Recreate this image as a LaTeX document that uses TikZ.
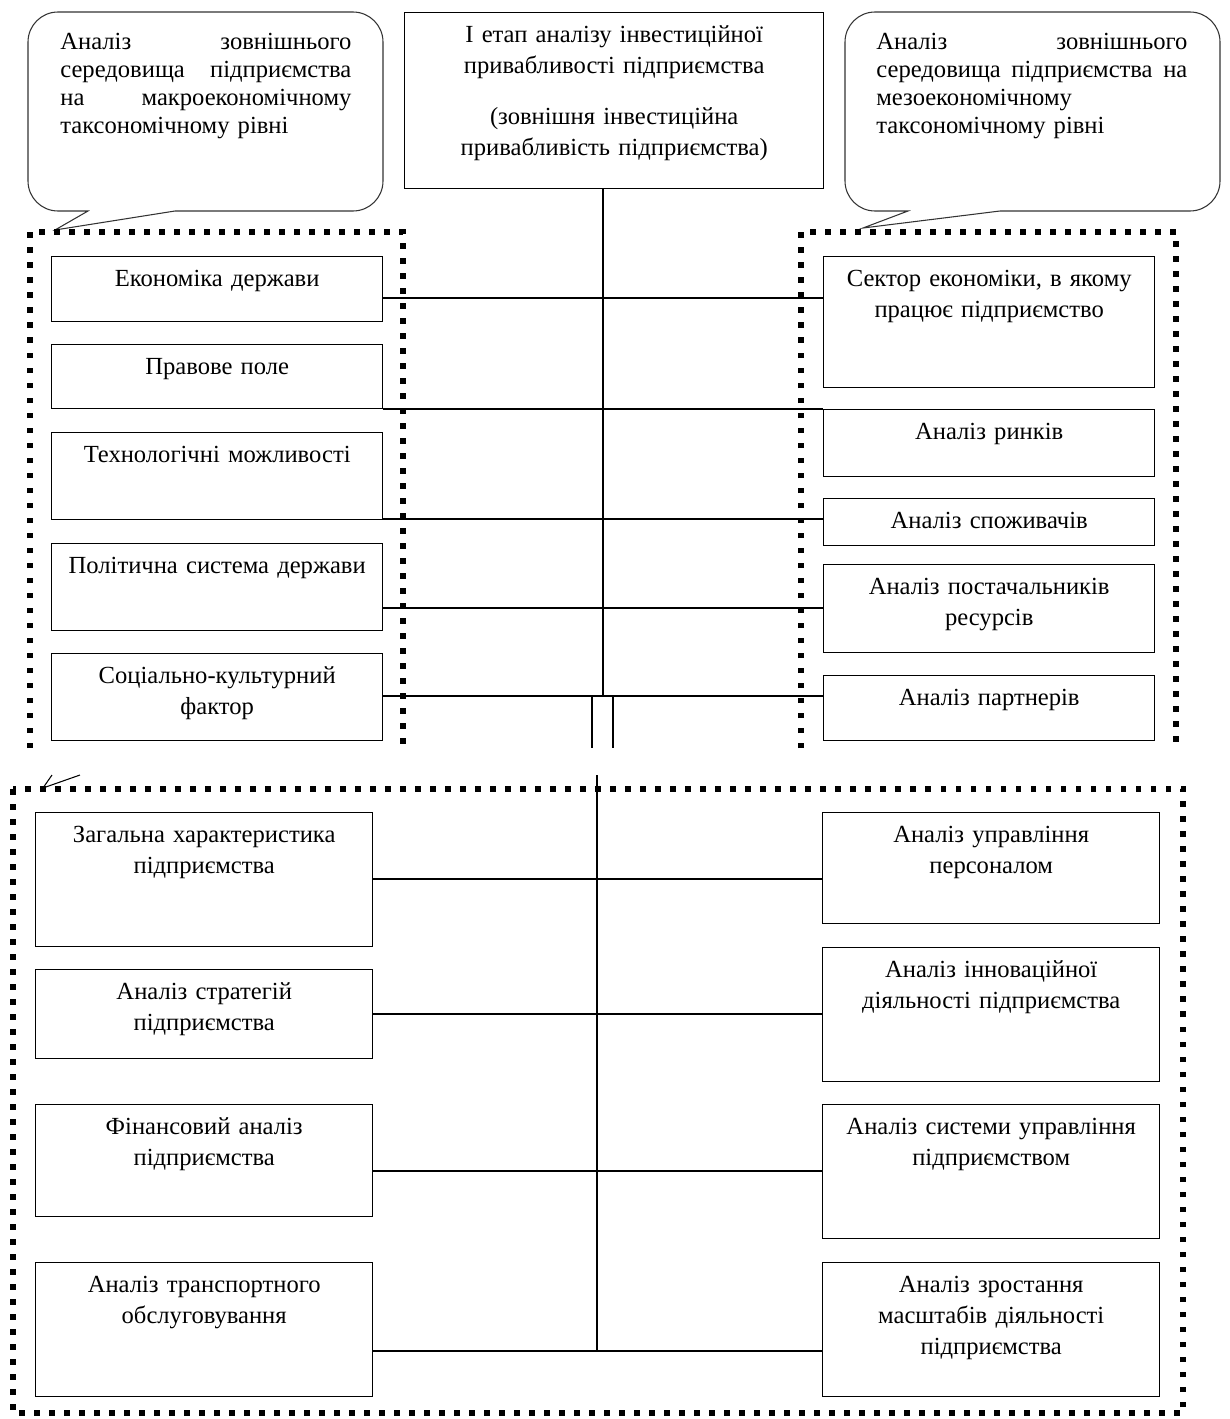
\documentclass[tikz,border=0pt]{standalone}
\usepackage{fontspec}
\setmainfont{Liberation Serif}
\usetikzlibrary{calc}

\begin{document}
\begin{tikzpicture}[
  font=\fontsize{14}{17.6}\selectfont,
  blk/.style={draw, line width=0.8pt, anchor=north west, align=center,
    inner xsep=0pt, inner ysep=0pt, text height=0.6cm, text depth=#1cm},
  tbx/.style={blk=#1, text width=6.62cm},
  bbx/.style={blk=#1, text width=6.74cm},
  btxt/.style={anchor=base west, align=left, inner sep=0pt,
    font=\fontsize{14}{15.9}\selectfont},
  bub/.style={line width=0.6pt, black!80},
  ln/.style={line width=0.8pt},
  dotfr/.style={line width=0.11cm, dash pattern=on 0.11cm off 0.19cm}
]
\useasboundingbox (0,0) rectangle (24.58,-28.38);

\node[blk=2.92, text width=8.38cm] (etap) at (8.08,-0.24)
  {І етап аналізу інвестиційної\\привабливості підприємства\\[0.4cm]
   (зовнішня інвестиційна\\привабливість підприємства)};

\draw[bub] (1.10,-4.60) -- (1.76,-4.22) -- (1.16,-4.22)
  arc[start angle=270, end angle=180, radius=0.6] -- (0.56,-0.84)
  arc[start angle=180, end angle=90, radius=0.6] -- (7.06,-0.24)
  arc[start angle=90, end angle=0, radius=0.6] -- (7.66,-3.62)
  arc[start angle=0, end angle=-90, radius=0.6] -- (3.50,-4.22) -- cycle;
\node[btxt, text width=5.82cm] (lcall) at (1.20,-1.00)
  {Аналіз\hfill зовнішнього\\середовища\hfill підприємства\\
   на\hfill макроекономічному\\таксономічному рівні};

\draw[bub] (17.26,-4.56) -- (18.16,-4.22) -- (17.50,-4.22)
  arc[start angle=270, end angle=180, radius=0.6] -- (16.90,-0.84)
  arc[start angle=180, end angle=90, radius=0.6] -- (23.80,-0.24)
  arc[start angle=90, end angle=0, radius=0.6] -- (24.40,-3.62)
  arc[start angle=0, end angle=-90, radius=0.6] -- (20.00,-4.22) -- cycle;
\node[btxt, text width=6.22cm] (rcall) at (17.52,-1.00)
  {Аналіз\hfill зовнішнього\\середовища\hfill підприємства\hfill на\\
   мезоекономічному\\таксономічному рівні};

\draw[dotfr] (0.60,-14.96) -- (0.60,-4.64) -- (8.06,-4.64) -- (8.06,-14.96);
\draw[dotfr] (16.02,-14.96) -- (16.02,-4.64) -- (23.52,-4.64) -- (23.52,-14.96);
\draw[dotfr] (0.26,-15.78) rectangle (23.66,-28.26);

\node[tbx=0.70] (ek) at (1.02,-5.12) {Економіка держави};
\node[tbx=0.68] (pr) at (1.02,-6.88) {Правове поле};
\node[tbx=1.14] (th) at (1.02,-8.64) {Технологічні можливості};
\node[tbx=1.14] (po) at (1.02,-10.86) {Політична система держави};
\node[tbx=1.14] (so) at (1.02,-13.06) {Соціально-культурний\\фактор};

\node[tbx=2.02] (se) at (16.46,-5.12) {Сектор економіки, в якому\\працює підприємство};
\node[tbx=0.74] (ry) at (16.46,-8.18) {Аналіз ринків};
\node[tbx=0.34] (sp) at (16.46,-9.96) {Аналіз споживачів};
\node[tbx=1.16] (pc) at (16.46,-11.28) {Аналіз постачальників\\ресурсів};
\node[tbx=0.70] (pa) at (16.46,-13.50) {Аналіз партнерів};

\coordinate (s1) at (12.06,-5.96);
\coordinate (s2) at (12.06,-8.18);
\coordinate (s3) at (12.06,-10.38);
\coordinate (s4) at (12.06,-12.16);
\coordinate (s5) at (12.06,-13.92);
\coordinate (d1) at (11.84,-14.96);
\coordinate (d2) at (12.26,-14.96);

\draw[ln] (etap.south -| s1) -- (s5);
\draw[ln] (ek.east |- s1) -- (se.west |- s1);
\draw[ln] (pr.east |- s2) -- (ry.west |- s2);
\draw[ln] (th.east |- s3) -- (sp.west |- s3);
\draw[ln] (po.east |- s4) -- (pc.west |- s4);
\draw[ln] (so.east |- s5) -- (pa.west |- s5);
\draw[ln] (d1 |- s5) -- (d1);
\draw[ln] (d2 |- s5) -- (d2);

\draw[ln, line width=0.6pt] (1.04,-15.50) -- (0.86,-15.76) -- (1.60,-15.50);

\node[bbx=2.08] (zh) at (0.70,-16.24) {Загальна характеристика\\підприємства};
\node[bbx=1.18] (st) at (0.70,-19.38) {Аналіз стратегій\\підприємства};
\node[bbx=1.64] (fa) at (0.70,-22.08) {Фінансовий аналіз\\підприємства};
\node[bbx=2.08] (tr) at (0.70,-25.24) {Аналіз транспортного\\обслуговування};

\node[bbx=1.62] (up) at (16.44,-16.24) {Аналіз управління\\персоналом};
\node[bbx=2.08] (in) at (16.44,-18.94) {Аналіз інноваційної\\діяльності підприємства};
\node[bbx=2.08] (su) at (16.44,-22.08) {Аналіз системи управління\\підприємством};
\node[bbx=2.08] (zr) at (16.44,-25.24) {Аналіз зростання\\масштабів діяльності\\підприємства};

\coordinate (t0) at (11.94,-15.50);
\coordinate (t1) at (11.94,-17.58);
\coordinate (t2) at (11.94,-20.28);
\coordinate (t3) at (11.94,-23.42);
\coordinate (t4) at (11.94,-27.02);

\draw[ln] (t0) -- (t4);
\draw[ln] (zh.east |- t1) -- (up.west |- t1);
\draw[ln] (st.east |- t2) -- (in.west |- t2);
\draw[ln] (fa.east |- t3) -- (su.west |- t3);
\draw[ln] (tr.east |- t4) -- (zr.west |- t4);
\end{tikzpicture}
\end{document}
